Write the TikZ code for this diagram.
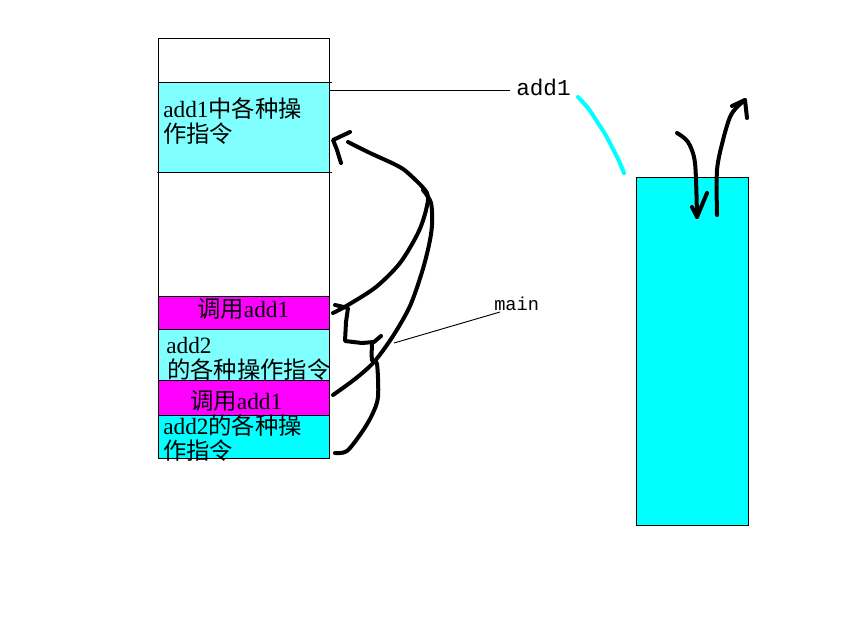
\documentclass[tikz,border=0pt]{standalone}
\usepackage{fontspec}
\setmainfont{Liberation Serif}
\setmonofont{Liberation Mono}
\newfontfamily\cjk{Noto Sans CJK SC}
\definecolor{lcyan}{RGB}{128,255,255}
\definecolor{mag}{RGB}{255,0,255}
\definecolor{cy}{RGB}{0,255,255}
\begin{document}
\begin{tikzpicture}[x=0.75pt,y=-0.75pt,
  cell/.style={draw=black,line width=0.75pt,inner sep=0pt,outer sep=0pt,minimum width=128.25pt,anchor=north west},
  lbl/.style={anchor=base west,inner sep=0pt,font=\fontsize{17.5}{20}\selectfont},
  hand/.style={draw=black,line width=3pt,line cap=round,line join=round},
  thin/.style={draw=black,line width=0.7pt}]
\path[use as bounding box,fill=white] (0,0) rectangle (845,642);
% left column
\node[cell,fill=white,minimum height=32.25pt] (c1) at (158,39) {};
\node[cell,fill=lcyan,minimum height=67.5pt] (c2) at (158,82) {};
\node[cell,fill=white,minimum height=93pt] (c3) at (158,172) {};
\node[cell,fill=mag,minimum height=24.75pt] (c4) at (158,296) {};
\node[cell,fill=lcyan,minimum height=38.25pt] (c5) at (158,329) {};
\node[cell,fill=mag,minimum height=26.25pt] (c6) at (158,380) {};
\node[cell,fill=cy,minimum height=32.25pt] (c7) at (158,415) {};
\draw[thin] (c2.north east) -- ++(3,0);
\draw[thin] (c3.north west) ++(-1,0) -- (c3.north east) -- ++(3,0);
% texts
\node[lbl] (t1) at (163,117) {add1{\cjk 中各种操}};
\node[lbl] (t2) at (163,142) {{\cjk 作指令}};
\node[lbl] (t3) at (197,317) {{\cjk 调用}add1};
\node[lbl] (t4) at (166,353) {add2};
\node[lbl] (t5) at (167,378) {{\cjk 的各种操作指令}};
\node[lbl] (t6) at (190,409) {{\cjk 调用}add1};
\node[lbl] (t7) at (163,434) {add2{\cjk 的各种操}};
\node[lbl] (t8) at (163,459) {{\cjk 作指令}};
% right box
\node[draw=black,line width=0.75pt,fill=cy,inner sep=0pt,minimum width=84pt,minimum height=261pt,anchor=north west] (rb) at (636,177) {};
% labels
\node[anchor=base west,inner sep=0pt,font=\ttfamily\fontsize{17}{20}\selectfont] (la) at (516,95) {add1};
\node[anchor=base west,inner sep=0pt,font=\ttfamily\fontsize{14}{16}\selectfont] (lm) at (494,310) {main};
\coordinate (a0) at (330,90);
\draw[thin] (a0) -- (510,90);
\coordinate (m0) at (394,343);
\draw[thin] (m0) -- (500,312);
% cyan arc
\draw[cy,line width=3pt,line cap=round] plot[smooth] coordinates {(578,97) (588,108) (596,120) (605,134) (613,149) (619,161) (624,173)};
% hand strokes left
\draw[hand] plot[smooth] coordinates {(333,313) (348,305) (376,287) (400,263) (418,233) (426,210) (427,193) (408,173) (396,165) (370,153) (348,142)};
\draw[hand] (350,132) -- (333,140) -- (337,150) -- (341,163);
\draw[hand] (335,305) -- (348,308) -- (346,322) -- (345,341) -- (362,343) -- (374,342) -- (381,336);
\draw[hand] plot[smooth] coordinates {(423,190) (431,203) (432,225) (429,245) (422,272) (410,306) (393,336) (374,362) (355,379) (333,395)};
\draw[hand] plot[smooth] coordinates {(372,343) (372,360) (377,364) (378,397) (372,415) (362,432) (347,451) (335,453)};
% hand strokes right
\draw[hand] plot[smooth] coordinates {(677,133) (688,142) (695,163) (697,217)};
\draw[hand] (692,207) -- (697,217) -- (707,193);
\draw[hand] plot[smooth] coordinates {(717,215) (717,170) (723,140) (730,117) (737,107) (745,100)};
\draw[hand] (732,106) -- (745,100) -- (747,118);
\end{tikzpicture}
\end{document}
